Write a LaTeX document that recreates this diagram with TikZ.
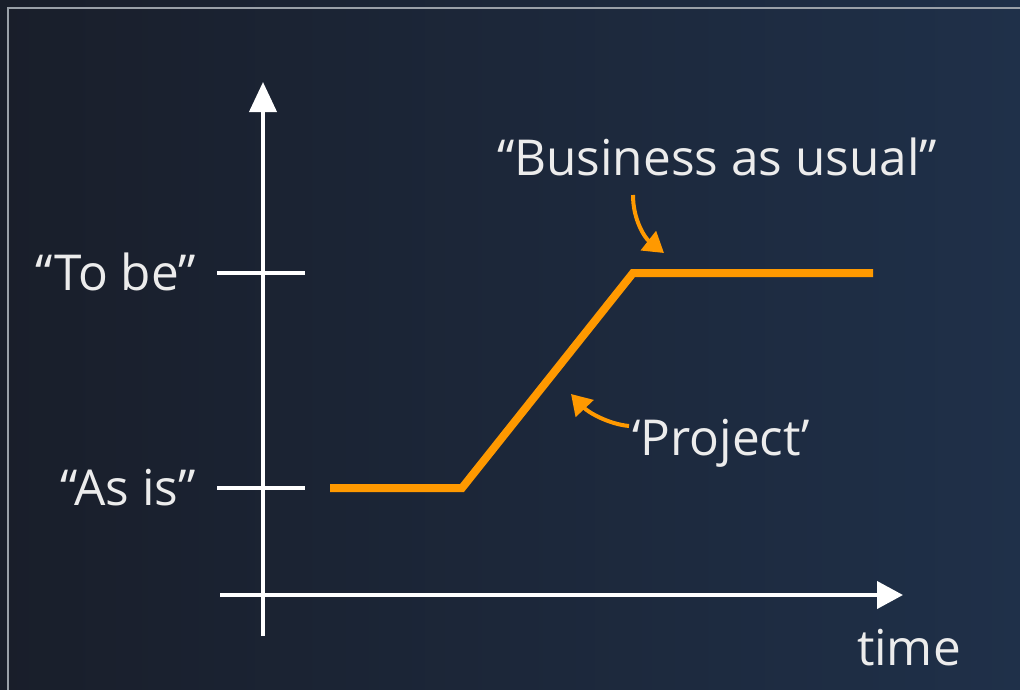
\documentclass[tikz,border=0pt]{standalone}
\usepackage{fontspec}
\setmainfont{Open Sans}
\usetikzlibrary{arrows.meta}
\definecolor{bgleft}{HTML}{191E2A}
\definecolor{bgright}{HTML}{1F3049}
\definecolor{awsorange}{HTML}{FF9900}
\definecolor{txt}{HTML}{ECECEC}
\definecolor{frame}{HTML}{9AA0A8}
\begin{document}
\begin{tikzpicture}[x=1pt,y=-1pt,
  axis/.style={draw=white,line width=4pt},
  axisarrow/.style={axis,-{Triangle[length=30pt,width=27pt]}},
  tick/.style={draw=white,line width=3.5pt},
  curve/.style={draw=awsorange,line width=8pt,line join=miter},
  callout/.style={draw=awsorange,line width=4pt,-{Triangle[length=20pt,width=24pt]}},
  lbl/.style={text=txt,font=\fontsize{49.5}{54}\selectfont,inner sep=0pt}]
\useasboundingbox (0,0) rectangle (1020,689);
\shade[left color=bgleft,right color=bgright] (0,0) rectangle (1020,689);
\draw[frame,line width=2pt] (8,700) -- (8,8) -- (1030,8);
% axes
\coordinate (ybot) at (263,636);
\coordinate (ytop) at (263,82);
\coordinate (xleft) at (220,595);
\coordinate (xright) at (903,595);
\draw[axisarrow] (ybot) -- (ytop);
\draw[axis,-{Triangle[length=26pt,width=27pt]}] (xleft) -- (xright);
% ticks
\coordinate (tbL) at (217,273); \coordinate (tbR) at (305,273);
\coordinate (aiL) at (217,488); \coordinate (aiR) at (305,488);
\draw[tick] (tbL) -- (tbR);
\draw[tick] (aiL) -- (aiR);
% labels
\node[lbl,anchor=base east] (tobe) at (196,290) {“To be”};
\node[lbl,anchor=base east] (asis) at (196,505) {“As is”};
\node[lbl,anchor=base] (bau) at (717,175) {“Business as usual”};
\node[lbl,anchor=base west] (proj) at (632,455) {‘Project’};
\node[lbl,anchor=base east] (time) at (961,665) {time};
% orange path
\coordinate (p1) at (330,488);
\coordinate (p2) at (462,488);
\coordinate (p3) at (633,273);
\coordinate (p4) at (873,273);
\draw[curve] (p1) -- (p2) -- (p3) -- (p4);
% callouts
\coordinate (b0) at (633,195);
\coordinate (b1) at (664,253);
\draw[callout] (b0) .. controls (633,220) and (645,238) .. (b1);
\coordinate (q0) at (629,426);
\coordinate (q1) at (571,394);
\draw[callout] (q0) .. controls (608,424) and (588,412) .. (q1);
\end{tikzpicture}
\end{document}
